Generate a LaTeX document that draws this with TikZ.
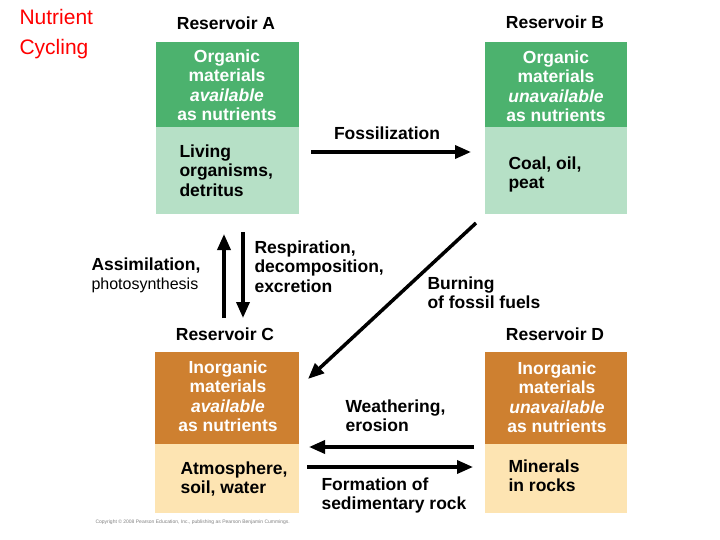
\documentclass[tikz,border=0pt]{standalone}
\usepackage{fontspec}
\setmainfont{Liberation Sans}
\usetikzlibrary{arrows.meta}
\definecolor{dg}{RGB}{76,178,110}
\definecolor{lg}{RGB}{182,224,198}
\definecolor{dor}{RGB}{206,128,48}
\definecolor{lor}{RGB}{253,228,178}
\tikzset{
 box/.style={anchor=north west,inner sep=0pt},
 wt/.style={text=white,font=\fontsize{17.5}{19.5}\selectfont\bfseries,align=center},
 bt/.style={font=\fontsize{17.5}{19.5}\selectfont\bfseries,align=left},
 arr/.style={line width=3.5pt,-{Triangle[length=16pt,width=13pt]}}
}
\begin{document}
\begin{tikzpicture}[x=1pt,y=-1pt]
\useasboundingbox (0,0) rectangle (720,540);
\node[anchor=north west,text=red,font=\fontsize{21}{30}\selectfont,align=left] (title) at (16,6) {Nutrient\\Cycling};
% boxes
\fill[dg] (156,42) rectangle (299,127); \fill[lg] (156,127) rectangle (299,214);
\fill[dg] (485,42) rectangle (627,127); \fill[lg] (485,127) rectangle (627,214);
\fill[dor] (155,352) rectangle (299,444); \fill[lor] (155,444) rectangle (299,513);
\fill[dor] (485,352) rectangle (627,444); \fill[lor] (485,444) rectangle (627,513);
\node[bt] (rA) at (226,23) {Reservoir A};
\node[bt] (rB) at (555,22) {Reservoir B};
\node[bt] (rC) at (225,334) {Reservoir C};
\node[bt] (rD) at (555,334) {Reservoir D};
\node[wt] (a1) at (227,85) {Organic\\materials\\\textit{available}\\as nutrients};
\node[wt] (b1) at (556,86) {Organic\\materials\\\textit{unavailable}\\as nutrients};
\node[wt] (c1) at (228,396) {Inorganic\\materials\\\textit{available}\\as nutrients};
\node[wt] (d1) at (557,397) {Inorganic\\materials\\\textit{unavailable}\\as nutrients};
\node[bt,anchor=north west] (a2) at (176,141) {Living\\organisms,\\detritus};
\node[bt,anchor=north west] (b2) at (505,153) {Coal, oil,\\peat};
\node[bt,anchor=north west] (c2) at (177,458) {Atmosphere,\\soil, water};
\node[bt,anchor=north west] (d2) at (505,456) {Minerals\\in rocks};
% labels
\node[bt] (fos) at (387,133) {Fossilization};
\node[bt,anchor=north west] (ass) at (88,254) {Assimilation,};
\node[anchor=north west,font=\fontsize{16}{19}\selectfont] (pho) at (88,274) {photosynthesis};
\node[bt,anchor=north west] (res) at (251,237) {Respiration,\\decomposition,\\excretion};
\node[bt,anchor=north west] (bur) at (424,273) {Burning\\of fossil fuels};
\node[bt,anchor=north west] (wea) at (342,396) {Weathering,\\erosion};
\node[bt,anchor=north west] (for) at (318,474) {Formation of\\sedimentary rock};
\node[anchor=west,text=gray,font=\fontsize{5}{6}\selectfont] (copy) at (92,522) {Copyright \textcopyright{} 2008 Pearson Education, Inc., publishing as Pearson Benjamin Cummings.};
% arrows
\coordinate (f1) at (311,152); \coordinate (f2) at (471,152);
\draw[arr] (f1) -- (f2);
\coordinate (u1) at (224,318); \coordinate (u2) at (224,234);
\draw[arr] (u1) -- (u2);
\coordinate (v1) at (243,232); \coordinate (v2) at (243,318);
\draw[arr] (v1) -- (v2);
\coordinate (g1) at (476,223); \coordinate (g2) at (308,379);
\draw[arr] (g1) -- (g2);
\coordinate (w1) at (474,447); \coordinate (w2) at (309,447);
\draw[arr] (w1) -- (w2);
\coordinate (s1) at (307,467); \coordinate (s2) at (473,467);
\draw[arr] (s1) -- (s2);
\end{tikzpicture}
\end{document}
